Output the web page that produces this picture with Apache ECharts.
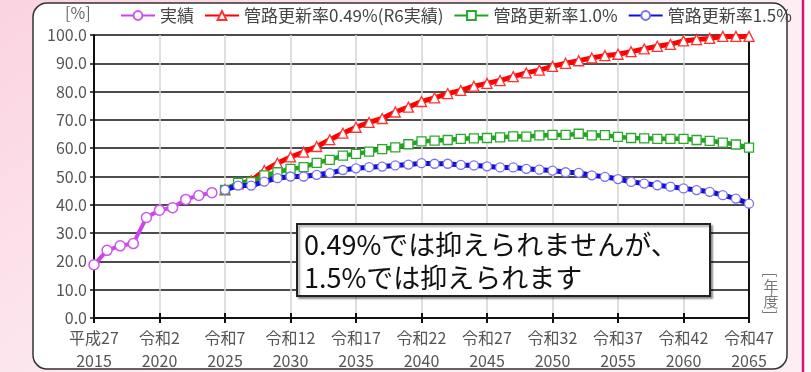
<!DOCTYPE html>
<html>
<head>
<meta charset="utf-8">
<script src="https://cdn.jsdelivr.net/npm/echarts@6/dist/echarts.min.js"></script>
<style>
  html, body { margin: 0; padding: 0; background: #fff; }
  #chart { width: 811px; height: 372px; }
</style>
</head>
<body>
<div id="chart"></div>
<script>
// Fiscal years on the horizontal axis
const years = [
  2015, 2016, 2017, 2018, 2019, 2020, 2021, 2022, 2023, 2024,
  2025, 2026, 2027, 2028, 2029, 2030, 2031, 2032, 2033, 2034,
  2035, 2036, 2037, 2038, 2039, 2040, 2041, 2042, 2043, 2044,
  2045, 2046, 2047, 2048, 2049, 2050, 2051, 2052, 2053, 2054,
  2055, 2056, 2057, 2058, 2059, 2060, 2061, 2062, 2063, 2064, 2065
];

// Labelled years and their Japanese era names
const tickYears = [2015, 2020, 2025, 2030, 2035, 2040, 2045, 2050, 2055, 2060, 2065];
const eraNames = ['平成27', '令和2', '令和7', '令和12', '令和17', '令和22', '令和27', '令和32', '令和37', '令和42', '令和47'];

// Actual values, FY2015 - FY2024 (%)
const actual = [18.8, 23.9, 25.5, 26.3, 35.5, 38.1, 39.0, 41.9, 43.3, 44.3];

// Projections, FY2025 - FY2065 (%)
const rate049 = [
  45.3, 47.4, 48.5, 52.1, 54.7, 56.9, 58.6, 60.6, 63.0, 65.3,
  67.4, 69.1, 70.5, 72.8, 74.5, 76.5, 77.8, 79.3, 80.4, 81.9,
  82.9, 83.9, 85.3, 86.6, 87.6, 88.9, 90.0, 90.9, 91.9, 92.7,
  93.2, 94.1, 95.1, 96.0, 96.7, 97.9, 98.4, 98.8, 99.5, 99.5, 99.5
];
const rate10 = [
  45.3, 47.8, 48.0, 50.4, 51.5, 52.7, 53.3, 54.8, 55.9, 57.4,
  58.0, 58.8, 59.7, 60.3, 61.4, 62.4, 62.7, 62.9, 63.3, 63.5,
  63.6, 63.8, 64.2, 64.1, 64.5, 64.7, 64.7, 65.1, 64.5, 64.6,
  64.0, 63.6, 63.5, 63.3, 63.3, 63.3, 62.9, 62.6, 62.0, 61.3, 60.2
];
const rate15 = [
  45.3, 46.8, 46.8, 48.2, 49.4, 50.0, 50.0, 50.6, 51.2, 52.3,
  52.9, 53.3, 53.5, 53.9, 54.2, 54.7, 54.5, 54.5, 54.1, 53.9,
  53.6, 53.2, 53.2, 52.7, 52.4, 52.1, 51.5, 51.3, 50.4, 49.9,
  49.1, 48.1, 47.5, 46.9, 46.4, 45.8, 45.2, 44.6, 43.4, 42.2, 40.4
];

const seriesNames = ['実績', '管路更新率0.49%(R6実績)', '管路更新率1.0%', '管路更新率1.5%'];
const noteLines = ['0.49%では抑えられませんが、', '1.5%では抑えられます'];

const FONT = '"Noto Sans CJK JP", "Noto Sans", sans-serif';
const firstProjYear = 2025;

// Place a partial series onto the full year axis
function onAxis(values, startYear) {
  const out = years.map(() => null);
  const offset = years.indexOf(startYear);
  values.forEach((v, i) => { out[offset + i] = v; });
  return out;
}

const chart = echarts.init(document.getElementById('chart'), null, { renderer: 'canvas' });

const tickIdx = (i) => tickYears.indexOf(years[i]) >= 0;

const option = {
  animation: false,
  textStyle: { fontFamily: FONT },
  grid: { left: 94, right: 62, top: 35, bottom: 53, containLabel: false },
  legend: {
    left: 115, top: 2,
    itemWidth: 34, itemHeight: 11, itemGap: 10,
    textStyle: { fontSize: 17, color: '#444', fontFamily: FONT },
    data: seriesNames
  },
  xAxis: [{
    type: 'category',
    data: years,
    boundaryGap: false,
    axisLine: { lineStyle: { color: '#111', width: 2 } },
    axisTick: { interval: (i) => tickIdx(i), length: 5, lineStyle: { color: '#111', width: 2 } },
    axisLabel: {
      interval: (i) => tickIdx(i),
      margin: 8,
      fontSize: 16, lineHeight: 23, color: '#555', fontFamily: FONT,
      formatter: (v) => {
        const k = tickYears.indexOf(Number(v));
        return eraNames[k] + '\n' + v;
      }
    },
    splitLine: { show: true, interval: (i) => tickIdx(i), lineStyle: { color: '#d4d4d4', width: 1.5 } }
  }, {
    // inward half of the crossing tick marks
    type: 'category',
    data: years,
    boundaryGap: false,
    position: 'bottom',
    axisLine: { show: false },
    axisTick: { inside: true, interval: (i) => tickIdx(i), length: 5, lineStyle: { color: '#111', width: 2 } },
    axisLabel: { show: false },
    splitLine: { show: false }
  }],
  yAxis: [{
    type: 'value',
    min: 0, max: 100, interval: 10,
    axisLine: { show: true, lineStyle: { color: '#111', width: 2 } },
    axisTick: { show: true, length: 4, lineStyle: { color: '#111', width: 1.5 } },
    axisLabel: { fontSize: 16, color: '#555', margin: 7, fontFamily: FONT, formatter: (v) => v.toFixed(1) },
    splitLine: { lineStyle: { color: '#111', width: 1.5 } }
  }, {
    type: 'value',
    min: 0, max: 100, interval: 10,
    position: 'right',
    axisLine: { show: true, lineStyle: { color: '#111', width: 2 } },
    axisTick: { show: false },
    axisLabel: { show: false },
    splitLine: { show: false }
  }],
  series: [
    {
      name: seriesNames[0], type: 'line', data: onAxis(actual, 2015),
      symbol: 'circle', symbolSize: 10, showAllSymbol: true,
      lineStyle: { color: '#cc44ee', width: 4 },
      itemStyle: { color: '#ffffff', borderColor: '#cc55ee', borderWidth: 1.5 },
      z: 3
    },
    {
      name: seriesNames[1], type: 'line', data: onAxis(rate049, firstProjYear),
      symbol: 'triangle', symbolSize: 10, showAllSymbol: true,
      lineStyle: { color: '#ff0000', width: 5 },
      itemStyle: { color: '#ffffff', borderColor: '#ff3030', borderWidth: 1.3 },
      z: 4
    },
    {
      name: seriesNames[2], type: 'line', data: onAxis(rate10, firstProjYear),
      symbol: 'rect', symbolSize: 9, showAllSymbol: true,
      lineStyle: { color: '#1fa51f', width: 4.5 },
      itemStyle: { color: '#ffffff', borderColor: '#2aaa2a', borderWidth: 1.3 },
      z: 5
    },
    {
      name: seriesNames[3], type: 'line', data: onAxis(rate15, firstProjYear),
      symbol: 'circle', symbolSize: 9, showAllSymbol: true,
      lineStyle: { color: '#1010dd', width: 5 },
      itemStyle: { color: '#ffffff', borderColor: '#7a70ee', borderWidth: 1.3 },
      z: 6
    }
  ],
  graphic: [
    // page backdrop
    {
      type: 'rect', z: -100, silent: true,
      shape: { x: 0, y: 0, width: 811, height: 372 },
      style: {
        fill: new echarts.graphic.LinearGradient(0, 0, 0.3, 1, [
          { offset: 0, color: '#fbd3e1' },
          { offset: 1, color: '#fdeef3' }
        ])
      }
    },
    {
      type: 'rect', z: -99, silent: true,
      shape: { x: 804, y: 0, width: 7, height: 372 },
      style: { fill: '#fff6f9' }
    },
    {
      type: 'line', z: -98, silent: true,
      shape: { x1: 803, y1: 0, x2: 803, y2: 372 },
      style: { stroke: '#d4147a', lineWidth: 2.5 }
    },
    // rounded white panel
    {
      type: 'rect', z: -90, silent: true,
      shape: { x: 33, y: 3, width: 754, height: 366, r: 14 },
      style: { fill: '#ffffff', stroke: '#333', lineWidth: 1.5 }
    },
    // unit labels
    {
      type: 'text', z: 10, silent: true,
      style: { x: 65, y: 13, text: '[%]', fill: '#666', font: '16px ' + FONT, verticalAlign: 'middle' }
    },
    {
      type: 'text', z: 10, silent: true, x: 771, y: 275, rotation: -Math.PI / 2,
      style: { x: 0, y: 0, text: '[', fill: '#777', font: '15px ' + FONT, align: 'center', verticalAlign: 'middle' }
    },
    {
      type: 'text', z: 10, silent: true,
      style: { x: 771, y: 286, text: '年', fill: '#777', font: '15px ' + FONT, align: 'center', verticalAlign: 'middle' }
    },
    {
      type: 'text', z: 10, silent: true,
      style: { x: 771, y: 301, text: '度', fill: '#777', font: '15px ' + FONT, align: 'center', verticalAlign: 'middle' }
    },
    {
      type: 'text', z: 10, silent: true, x: 771, y: 312, rotation: -Math.PI / 2,
      style: { x: 0, y: 0, text: ']', fill: '#777', font: '15px ' + FONT, align: 'center', verticalAlign: 'middle' }
    },
    // annotation
    {
      type: 'rect', z: 100, silent: true,
      shape: { x: 297, y: 224, width: 413, height: 72 },
      style: {
        fill: '#ffffff', stroke: '#222', lineWidth: 2,
        shadowBlur: 2, shadowOffsetX: 2, shadowOffsetY: 2, shadowColor: 'rgba(0,0,0,0.35)'
      }
    },
    {
      type: 'text', z: 101, silent: true,
      style: { x: 304, y: 245, text: noteLines[0], fill: '#111', font: '27px ' + FONT, verticalAlign: 'middle' }
    },
    {
      type: 'text', z: 101, silent: true,
      style: { x: 304, y: 278, text: noteLines[1], fill: '#111', font: '27px ' + FONT, verticalAlign: 'middle' }
    }
  ]
};

chart.setOption(option);
</script>
</body>
</html>
